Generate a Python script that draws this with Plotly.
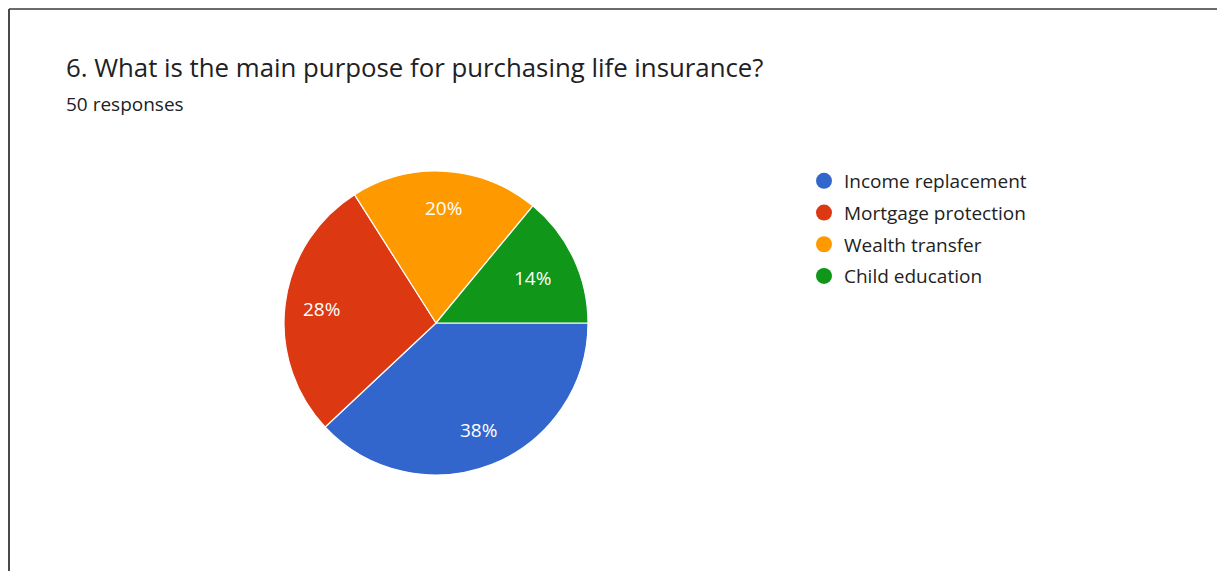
import math
import plotly.graph_objects as go

W, H = 1217, 571

categories = ["Income replacement", "Mortgage protection", "Wealth transfer", "Child education"]
values = [38, 28, 20, 14]
colors = ["#3366cc", "#dc3912", "#ff9900", "#109618"]
title_text = "6. What is the main purpose for purchasing life insurance?"
subtitle_text = "50 responses"

FONT = "Open Sans, Arial, sans-serif"

cx, cy, r = 436, 323, 152
start_deg = 90  # first slice starts at 3 o'clock, clockwise

fig = go.Figure()
fig.add_trace(go.Pie(
    labels=categories,
    values=values,
    marker=dict(colors=colors, line=dict(color="white", width=1.2)),
    sort=False,
    direction="clockwise",
    rotation=start_deg,
    textinfo="none",
    showlegend=False,
    hoverinfo="label+percent",
    domain=dict(x=[(cx - r) / W, (cx + r) / W], y=[1 - (cy + r) / H, 1 - (cy - r) / H]),
))

for i, (name, col) in enumerate(zip(categories, colors)):
    fig.add_trace(go.Scatter(
        x=[None], y=[None], mode="markers", name=name, legendgroup=f"g{i}",
        marker=dict(symbol="circle", size=17, color=col),
        showlegend=True,
    ))

# percentage labels placed at the slice mid-angle (Google-chart style)
total = sum(values)
annotations = []
acc = 0
for v in values:
    mid = start_deg + (acc + v / 2) / total * 360
    acc += v
    rad = math.radians(mid)
    rr = 0.76 * r if v / total > 0.15 else 0.70 * r
    px = cx + rr * math.sin(rad)
    py = cy - rr * math.cos(rad)
    annotations.append(dict(
        text=f"{round(v / total * 100)}%", x=px / W, y=1 - py / H,
        xref="paper", yref="paper", xanchor="center", yanchor="middle", showarrow=False,
        font=dict(family=FONT, size=19, color="white"),
    ))

annotations += [
    dict(text=title_text, x=64 / W, y=1 - 87 / H, xref="paper", yref="paper",
         xanchor="left", yanchor="bottom", showarrow=False,
         font=dict(family=FONT, size=25.8, color="#202124")),
    dict(text=subtitle_text, x=64 / W, y=1 - 119 / H, xref="paper", yref="paper",
         xanchor="left", yanchor="bottom", showarrow=False,
         font=dict(family=FONT, size=19, color="#202124")),
]

fig.update_layout(
    width=W, height=H,
    margin=dict(l=0, r=0, t=0, b=0),
    paper_bgcolor="white", plot_bgcolor="white",
    xaxis=dict(visible=False), yaxis=dict(visible=False),
    legend=dict(
        x=804 / W, y=1 - 162 / H, xanchor="left", yanchor="top",
        font=dict(family=FONT, size=19, color="#222222"),
        itemsizing="trace", tracegroupgap=4,
        bgcolor="rgba(0,0,0,0)",
    ),
    annotations=annotations,
    shapes=[
        dict(type="line", xref="paper", yref="paper", x0=9 / W, x1=1, y0=1 - 9 / H, y1=1 - 9 / H,
             line=dict(color="#6b6b6b", width=2)),
        dict(type="line", xref="paper", yref="paper", x0=9 / W, x1=9 / W, y0=0, y1=1 - 9 / H,
             line=dict(color="#4a4a4a", width=2)),
    ],
)

fig.write_html("out.html")
